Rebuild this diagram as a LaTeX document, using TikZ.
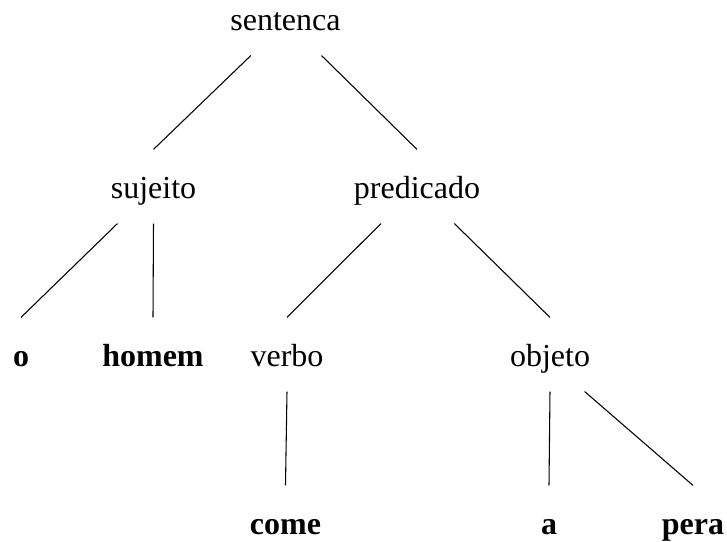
\documentclass[tikz,border=0pt]{standalone}
\usepackage{fontspec}
\setmainfont{Liberation Serif}
\usepackage{tikz}
\usetikzlibrary{positioning,calc}

\begin{document}
\begin{tikzpicture}[x=0.375pt,y=-0.375pt]
      % one unit is one pixel of the reference, y grows downwards
      \useasboundingbox (0,0) rectangle (727,542);
      % every word sits on its base line; the fixed height and depth give
      % the gap between the word and the branches
      \tikzset{NodeStyle/.style={anchor=base, inner sep=0pt,
            text height=18.4pt, text depth=9pt,
            font=\fontsize{12pt}{14pt}\selectfont}}
      \tikzset{LeafStyle/.style={NodeStyle, font=\fontsize{12pt}{14pt}\selectfont\bfseries}}
      \tikzset{BranchStyle/.style={draw=black, line width=0.4pt}}
      % the inner nodes
      \node[NodeStyle] (sentenca)  at (285.5,31)  {sentenca};
      \node[NodeStyle] (sujeito)   at (153.5,199) {sujeito};
      \node[NodeStyle] (predicado) at (417,199)   {predicado};
      \node[NodeStyle] (verbo)     at (287,367)   {verbo};
      \node[NodeStyle] (objeto)    at (550,367)   {objeto};
      % the leaves, in bold
      \node[LeafStyle] (o)     at (21,367)    {o};
      \node[LeafStyle] (homem) at (153,367)   {homem};
      \node[LeafStyle] (come)  at (285.5,535) {come};
      \node[LeafStyle] (a)     at (549,535)   {a};
      \node[LeafStyle] (pera)  at (693,535)   {pera};
      % the branches leave the parent a little to the side of the child
      \draw[BranchStyle] ([xshift=-13pt]sentenca.south) -- (sujeito.north);
      \draw[BranchStyle] ([xshift=13.5pt]sentenca.south) -- (predicado.north);
      \draw[BranchStyle] ([xshift=-13.5pt]sujeito.south) -- (o.north);
      \draw[BranchStyle] (sujeito.south) -- (homem.north);
      \draw[BranchStyle] ([xshift=-13.5pt]predicado.south) -- (verbo.north);
      \draw[BranchStyle] ([xshift=14pt]predicado.south) -- (objeto.north);
      \draw[BranchStyle] (verbo.south) -- (come.north);
      \draw[BranchStyle] (objeto.south) -- (a.north);
      \draw[BranchStyle] ([xshift=13pt]objeto.south) -- (pera.north);
\end{tikzpicture}
\end{document}
